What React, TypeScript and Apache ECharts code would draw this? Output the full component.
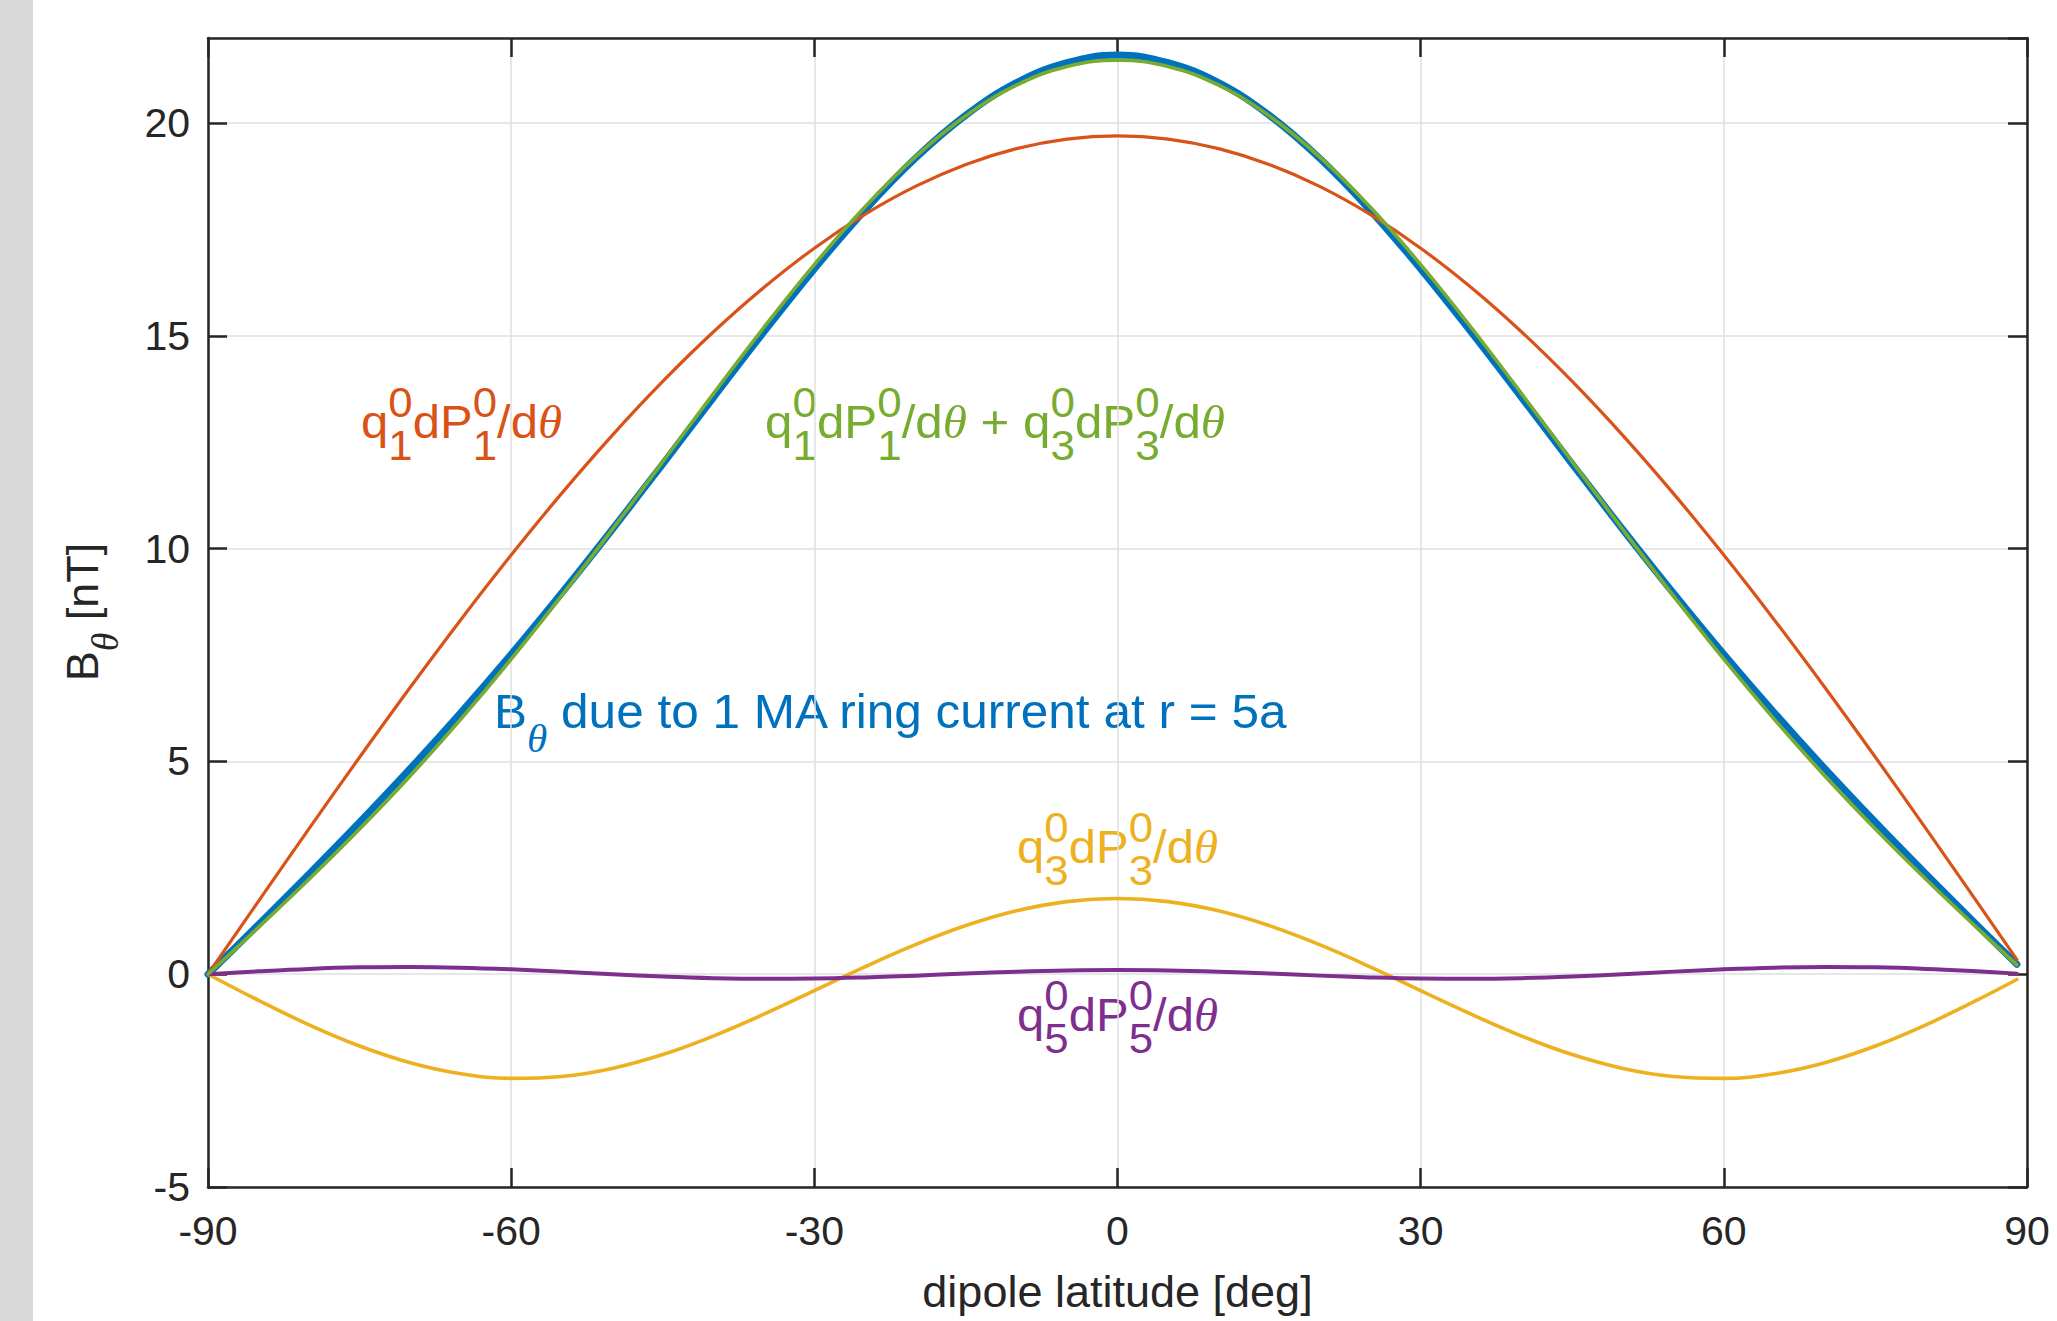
import React, { useEffect, useRef } from "react";
import * as echarts from "echarts";

// dipole latitude [deg]
const latitudes = [
  -90, -85, -80, -75, -70, -65, -60, -55, -50, -45, -40, -35, -30, -25, -20, -15, -10, -5,
  0, 5, 10, 15, 20, 25, 30, 35, 40, 45, 50, 55, 60, 65, 70, 75, 80, 85, 89,
];

// B_theta due to 1 MA ring current at r = 5a (blue)
const ringCurrent = [
  0, 1.17, 2.356, 3.572, 4.83, 6.144, 7.518, 8.957, 10.451, 11.989, 13.546, 15.088, 16.573,
  17.952, 19.173, 20.187, 20.949, 21.42, 21.6, 21.42, 20.949, 20.187, 19.173, 17.952, 16.573,
  15.088, 13.546, 11.989, 10.451, 8.957, 7.518, 6.144, 4.83, 3.572, 2.356, 1.17, 0.234,
];

// q1 dP1/dtheta (orange)
const q1Term = [
  0, 1.717, 3.421, 5.099, 6.738, 8.326, 9.85, 11.3, 12.663, 13.93, 15.091, 16.137, 17.061,
  17.854, 18.512, 19.029, 19.401, 19.625, 19.7, 19.625, 19.401, 19.029, 18.512, 17.854, 17.061,
  16.137, 15.091, 13.93, 12.663, 11.3, 9.85, 8.326, 6.738, 5.099, 3.421, 1.717, 0.344,
];

// q3 dP3/dtheta (yellow)
const q3Term = [
  0, -0.615, -1.19, -1.688, -2.079, -2.337, -2.448, -2.404, -2.213, -1.888, -1.453, -0.94,
  -0.385, 0.173, 0.694, 1.143, 1.489, 1.706, 1.78, 1.706, 1.489, 1.143, 0.694, 0.173, -0.385,
  -0.94, -1.453, -1.888, -2.213, -2.404, -2.448, -2.337, -2.079, -1.688, -1.19, -0.615, -0.124,
];

// q5 dP5/dtheta (purple)
const q5Term = [
  0, 0.068, 0.125, 0.161, 0.171, 0.155, 0.116, 0.061, 0.001, -0.053, -0.092, -0.109, -0.103,
  -0.075, -0.033, 0.015, 0.059, 0.089, 0.1, 0.089, 0.059, 0.015, -0.033, -0.075, -0.103,
  -0.109, -0.092, -0.053, 0.001, 0.061, 0.116, 0.155, 0.171, 0.161, 0.125, 0.068, 0.014,
];

// q1 dP1/dtheta + q3 dP3/dtheta (green)
const q1q3Sum = [
  0, 1.102, 2.231, 3.411, 4.659, 5.989, 7.402, 8.896, 10.45, 12.042, 13.638, 15.197, 16.676,
  18.027, 19.206, 20.172, 20.89, 21.331, 21.48, 21.331, 20.89, 20.172, 19.206, 18.027, 16.676,
  15.197, 13.638, 12.042, 10.45, 8.896, 7.402, 5.989, 4.659, 3.411, 2.231, 1.102, 0.22,
];

const xLabel = "dipole latitude [deg]";

const BLUE = "#0072BD";
const ORANGE = "#D95319";
const YELLOW = "#EDB120";
const PURPLE = "#7E2F8E";
const GREEN = "#77AC30";
const AXIS = "#262626";

const SANS = '"Liberation Sans", Arial, Helvetica, sans-serif';
const SERIF = '"Liberation Serif", "Times New Roman", serif';

let ctx: CanvasRenderingContext2D | null = null;
function measure(text: string, size: number, italicSerif: boolean) {
  if (!ctx) ctx = document.createElement("canvas").getContext("2d");
  if (!ctx) return text.length * size * 0.55;
  ctx.font = italicSerif ? `italic ${size}px ${SERIF}` : `${size}px ${SANS}`;
  return ctx.measureText(text).width;
}

type Tok = { t?: string; sup?: string; sub?: string; it?: boolean };

function textEl(text: string, x: number, baseline: number, size: number, it: boolean, color: string) {
  const k = it ? 0.3375 : 0.3465;
  return {
    type: "text",
    x,
    y: baseline - k * size,
    silent: true,
    style: {
      text,
      fill: color,
      fontSize: size,
      fontFamily: it ? SERIF : SANS,
      fontStyle: it ? "italic" : "normal",
      textAlign: "left",
      textVerticalAlign: "middle",
      align: "left",
      verticalAlign: "middle",
    },
  };
}

function mathText(
  tokens: Tok[],
  size: number,
  scriptSize: number,
  color: string,
  supShift: number,
  subShift: number
) {
  const children: any[] = [];
  let x = 0;
  for (const tok of tokens) {
    const it = !!tok.it;
    if (tok.t !== undefined) {
      children.push(textEl(tok.t, x, 0, size, it, color));
      x += measure(tok.t, size, it);
    } else {
      let w = 0;
      if (tok.sup !== undefined) {
        children.push(textEl(tok.sup, x, -supShift, scriptSize, it, color));
        w = Math.max(w, measure(tok.sup, scriptSize, it));
      }
      if (tok.sub !== undefined) {
        children.push(textEl(tok.sub, x, subShift, scriptSize, it, color));
        w = Math.max(w, measure(tok.sub, scriptSize, it));
      }
      x += w;
    }
  }
  return { children, width: x };
}

function qTokens(n: string): Tok[] {
  return [
    { t: "q" },
    { sup: "0", sub: n },
    { t: "dP" },
    { sup: "0", sub: n },
    { t: "/d" },
    { t: "θ", it: true },
  ];
}

function placed(
  tokens: Tok[],
  left: number,
  baseline: number,
  targetWidth: number,
  size: number,
  scriptSize: number,
  color: string,
  supShift: number,
  subShift: number
) {
  const m = mathText(tokens, size, scriptSize, color, supShift, subShift);
  return {
    type: "group",
    x: left,
    y: baseline,
    scaleX: targetWidth / m.width,
    children: m.children,
  };
}

function pairs(ys: number[]) {
  return latitudes.map((x, i) => [x, ys[i]]);
}

export default function App() {
  const ref = useRef<HTMLDivElement>(null);

  useEffect(() => {
    if (!ref.current) return;
    const chart = echarts.init(ref.current, undefined, { renderer: "svg" });

    const axisLineStyle = { color: AXIS, width: 2.5 };
    const tickCommon = { show: true, inside: true, length: 19, lineStyle: { color: AXIS, width: 2.5 } };
    const labelFont = { fontFamily: SANS, fontSize: 41, color: AXIS };

    const yLabel = mathText([{ t: "B" }, { sub: "θ", it: true }, { t: " [nT]" }], 45, 38, AXIS, 20, 20);

    const graphics: any[] = [
      {
        type: "rect",
        silent: true,
        z: -10,
        shape: { x: 0, y: 0, width: 33, height: 1321 },
        style: { fill: "#d9d9d9" },
      },
      {
        type: "group",
        x: 98,
        y: 612,
        rotation: Math.PI / 2,
        children: [
          {
            type: "group",
            x: -yLabel.width / 2,
            y: 0,
            children: yLabel.children,
          },
        ],
      },
      placed(qTokens("1"), 361, 438, 201, 47, 42, ORANGE, 21, 22),
      placed(
        [...qTokens("1"), { t: " + " }, ...qTokens("3")],
        765,
        438,
        460,
        47,
        42,
        GREEN,
        21,
        22
      ),
      placed(
        [{ t: "B" }, { sub: "θ", it: true }, { t: " due to 1 MA ring current at r = 5a" }],
        494,
        728,
        795,
        48,
        40,
        BLUE,
        21,
        24
      ),
      placed(qTokens("3"), 1017, 863, 201, 47, 42, YELLOW, 21, 22),
      placed(qTokens("5"), 1017, 1031, 201, 47, 42, PURPLE, 21, 22),
    ];

    const lineSeries = (name: string, ys: number[], color: string, width: number) => ({
      name,
      type: "line",
      data: pairs(ys),
      showSymbol: false,
      symbol: "none",
      smooth: 0.4,
      lineStyle: { color, width, cap: "round", join: "round" },
      itemStyle: { color },
      emphasis: { disabled: true },
      z: 3,
    });

    chart.setOption({
      animation: false,
      backgroundColor: "#ffffff",
      grid: { left: 208, top: 38, right: 30, bottom: 134, containLabel: false },
      xAxis: [
        {
          type: "value",
          min: -90,
          max: 90,
          interval: 30,
          position: "bottom",
          axisLine: { show: true, onZero: false, lineStyle: axisLineStyle },
          axisTick: tickCommon,
          axisLabel: { ...labelFont, margin: 23 },
          splitLine: { show: true, lineStyle: { color: "#dfdfdf", width: 1.5 } },
          name: xLabel,
          nameLocation: "middle",
          nameGap: 82,
          nameTextStyle: { fontFamily: SANS, fontSize: 45, color: AXIS },
        },
        {
          type: "value",
          min: -90,
          max: 90,
          interval: 30,
          position: "top",
          axisLine: { show: true, onZero: false, lineStyle: axisLineStyle },
          axisTick: tickCommon,
          axisLabel: { show: false },
          splitLine: { show: false },
        },
      ],
      yAxis: [
        {
          type: "value",
          min: -5,
          max: 22,
          interval: 5,
          position: "left",
          axisLine: { show: true, onZero: false, lineStyle: axisLineStyle },
          axisTick: tickCommon,
          axisLabel: { ...labelFont, margin: 18, showMaxLabel: false },
          splitLine: { show: true, lineStyle: { color: "#dfdfdf", width: 1.5 } },
        },
        {
          type: "value",
          min: -5,
          max: 22,
          interval: 5,
          position: "right",
          axisLine: { show: true, onZero: false, lineStyle: axisLineStyle },
          axisTick: tickCommon,
          axisLabel: { show: false },
          splitLine: { show: false },
        },
      ],
      series: [
        lineSeries("B_theta ring current", ringCurrent, BLUE, 7),
        lineSeries("q1 dP1/dtheta", q1Term, ORANGE, 3.2),
        lineSeries("q3 dP3/dtheta", q3Term, YELLOW, 3.6),
        lineSeries("q5 dP5/dtheta", q5Term, PURPLE, 4),
        lineSeries("q1 dP1/dtheta + q3 dP3/dtheta", q1q3Sum, GREEN, 3.6),
      ],
      graphic: { elements: graphics },
    });

    return () => chart.dispose();
  }, []);

  return (
    <div
      ref={ref}
      style={{ position: "fixed", left: 0, top: 0, width: 2057, height: 1321, background: "#fff" }}
    />
  );
}
